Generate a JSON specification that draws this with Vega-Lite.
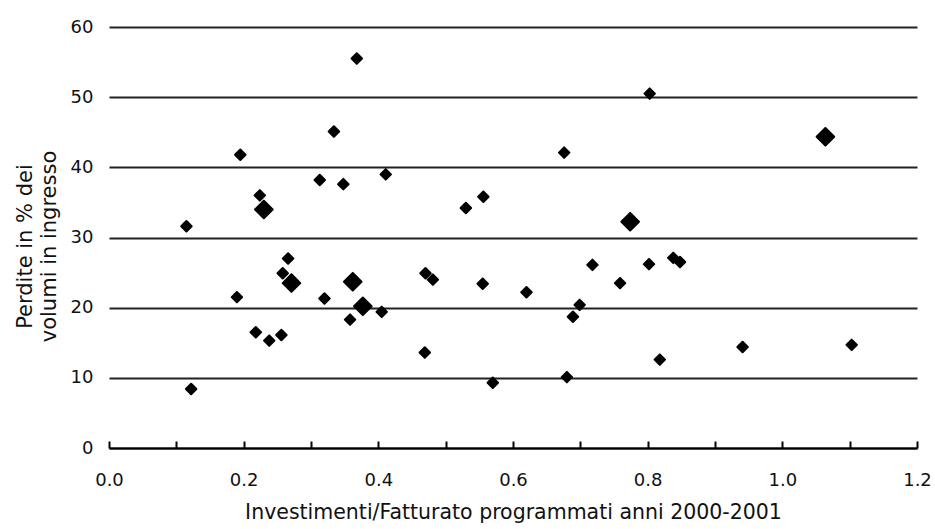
{
  "$schema": "https://vega.github.io/schema/vega-lite/v6.json",
  "width": 808,
  "height": 421,
  "autosize": "none",
  "padding": {"left": 109, "top": 27, "right": 18, "bottom": 81},
  "background": "white",
  "config": {
    "view": {"stroke": null},
    "font": "DejaVu Sans"
  },
  "data": {
    "values": [
      {"inv": 0.115, "perdite": 31.6, "gruppo": "piccolo"},
      {"inv": 0.122, "perdite": 8.4, "gruppo": "piccolo"},
      {"inv": 0.190, "perdite": 21.5, "gruppo": "piccolo"},
      {"inv": 0.195, "perdite": 41.8, "gruppo": "piccolo"},
      {"inv": 0.218, "perdite": 16.5, "gruppo": "piccolo"},
      {"inv": 0.224, "perdite": 36.0, "gruppo": "piccolo"},
      {"inv": 0.238, "perdite": 15.3, "gruppo": "piccolo"},
      {"inv": 0.256, "perdite": 16.1, "gruppo": "piccolo"},
      {"inv": 0.258, "perdite": 24.9, "gruppo": "piccolo"},
      {"inv": 0.266, "perdite": 27.0, "gruppo": "piccolo"},
      {"inv": 0.313, "perdite": 38.2, "gruppo": "piccolo"},
      {"inv": 0.320, "perdite": 21.3, "gruppo": "piccolo"},
      {"inv": 0.334, "perdite": 45.1, "gruppo": "piccolo"},
      {"inv": 0.348, "perdite": 37.6, "gruppo": "piccolo"},
      {"inv": 0.358, "perdite": 18.3, "gruppo": "piccolo"},
      {"inv": 0.368, "perdite": 55.5, "gruppo": "piccolo"},
      {"inv": 0.405, "perdite": 19.4, "gruppo": "piccolo"},
      {"inv": 0.411, "perdite": 39.0, "gruppo": "piccolo"},
      {"inv": 0.469, "perdite": 13.6, "gruppo": "piccolo"},
      {"inv": 0.470, "perdite": 24.9, "gruppo": "piccolo"},
      {"inv": 0.481, "perdite": 24.0, "gruppo": "piccolo"},
      {"inv": 0.530, "perdite": 34.2, "gruppo": "piccolo"},
      {"inv": 0.555, "perdite": 23.4, "gruppo": "piccolo"},
      {"inv": 0.556, "perdite": 35.8, "gruppo": "piccolo"},
      {"inv": 0.570, "perdite": 9.3, "gruppo": "piccolo"},
      {"inv": 0.620, "perdite": 22.2, "gruppo": "piccolo"},
      {"inv": 0.676, "perdite": 42.1, "gruppo": "piccolo"},
      {"inv": 0.680, "perdite": 10.1, "gruppo": "piccolo"},
      {"inv": 0.689, "perdite": 18.7, "gruppo": "piccolo"},
      {"inv": 0.699, "perdite": 20.4, "gruppo": "piccolo"},
      {"inv": 0.718, "perdite": 26.1, "gruppo": "piccolo"},
      {"inv": 0.759, "perdite": 23.5, "gruppo": "piccolo"},
      {"inv": 0.802, "perdite": 26.2, "gruppo": "piccolo"},
      {"inv": 0.803, "perdite": 50.5, "gruppo": "piccolo"},
      {"inv": 0.818, "perdite": 12.6, "gruppo": "piccolo"},
      {"inv": 0.838, "perdite": 27.1, "gruppo": "piccolo"},
      {"inv": 0.848, "perdite": 26.5, "gruppo": "piccolo"},
      {"inv": 0.941, "perdite": 14.4, "gruppo": "piccolo"},
      {"inv": 1.103, "perdite": 14.7, "gruppo": "piccolo"},
      {"inv": 0.230, "perdite": 34.0, "gruppo": "grande"},
      {"inv": 0.271, "perdite": 23.5, "gruppo": "grande"},
      {"inv": 0.362, "perdite": 23.7, "gruppo": "grande"},
      {"inv": 0.377, "perdite": 20.2, "gruppo": "grande"},
      {"inv": 0.774, "perdite": 32.25, "gruppo": "grande"},
      {"inv": 1.064, "perdite": 44.35, "gruppo": "grande"}
    ]
  },
  "mark": {
    "type": "point",
    "shape": "diamond",
    "filled": true,
    "color": "black",
    "stroke": "black",
    "strokeWidth": 2,
    "strokeJoin": "round",
    "opacity": 1
  },
  "encoding": {
    "x": {
      "field": "inv",
      "type": "quantitative",
      "scale": {"domain": [0, 1.2], "nice": false, "zero": false},
      "axis": {
        "title": "Investimenti/Fatturato programmati anni 2000-2001",
        "titleFont": "DejaVu Sans",
        "titleFontSize": 20.5,
        "titleFontWeight": "normal",
        "titleColor": "#111111",
        "titlePadding": 13,
        "values": [0, 0.1, 0.2, 0.3, 0.4, 0.5, 0.6, 0.7, 0.8, 0.9, 1.0, 1.1, 1.2],
        "labelExpr": "round(datum.value*10) % 2 == 0 ? format(datum.value, '.1f') : ''",
        "labelFont": "DejaVu Sans",
        "labelFontSize": 18,
        "labelColor": "#111111",
        "labelFlush": false,
        "labelOverlap": false,
        "labelPadding": 30,
        "grid": false,
        "domain": true,
        "domainColor": "black",
        "domainWidth": 2,
        "ticks": true,
        "tickColor": "black",
        "tickWidth": 2,
        "tickSize": -7
      }
    },
    "y": {
      "field": "perdite",
      "type": "quantitative",
      "scale": {"domain": [0, 60], "nice": false},
      "axis": {
        "title": ["Perdite in % dei", "volumi in ingresso"],
        "titleFont": "DejaVu Sans",
        "titleFontSize": 21,
        "titleFontWeight": "normal",
        "titleColor": "#111111",
        "titleLineHeight": 24,
        "titlePadding": 11,
        "titleY": 219,
        "values": [0, 10, 20, 30, 40, 50, 60],
        "labelFont": "DejaVu Sans",
        "labelFontSize": 18,
        "labelColor": "#111111",
        "labelPadding": 16,
        "domain": false,
        "ticks": false,
        "grid": true,
        "gridColor": "#222222",
        "gridWidth": 2
      }
    },
    "size": {
      "field": "gruppo",
      "type": "nominal",
      "scale": {"domain": ["piccolo", "grande"], "range": [110, 310]},
      "legend": null
    }
  }
}
